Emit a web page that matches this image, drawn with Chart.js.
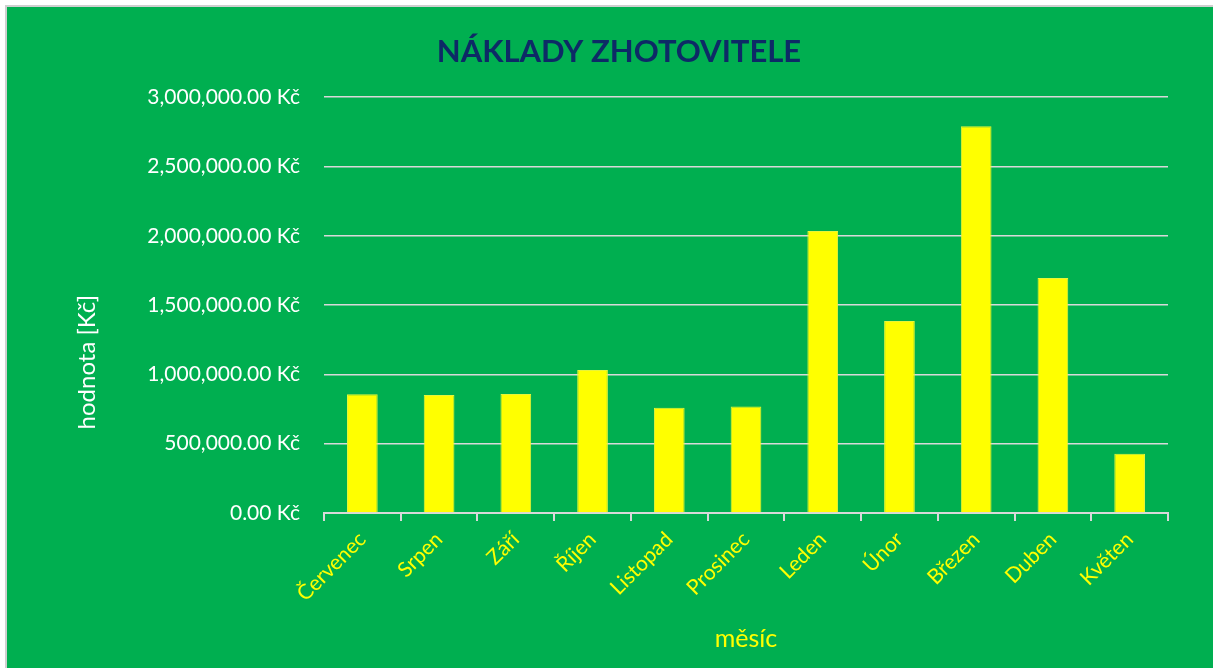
<!DOCTYPE html>
<html lang="cs">
<head>
    <meta charset="UTF-8">
    <title>Náklady zhotovitele</title>
    <script src="https://cdn.jsdelivr.net/npm/chart.js@4/dist/chart.umd.min.js"></script>
    <style>
        html, body { margin: 0; padding: 0; background: #fff; }
        #wrap { width: 1213px; height: 668px; }
    </style>
</head>
<body>
<div id="wrap"><canvas id="naklady" width="1213" height="668"></canvas></div>

<script>
// data
var mesice = ['Červenec', 'Srpen', 'Září', 'Říjen', 'Listopad', 'Prosinec', 'Leden', 'Únor', 'Březen', 'Duben', 'Květen'];
var hodnoty = [856000, 851000, 858000, 1031000, 759000, 769000, 2034000, 1385000, 2791000, 1695000, 428000];
var osaMax = 3000000;
var osaKrok = 500000;
var nazevOsyY = 'hodnota [Kč]';

var zelena = '#00AF50';
var zluta = '#FFFF00';
var mrizka = '#D9D9D9';
var pismo = 'Lato, "Open Sans", sans-serif';

// zelene pozadi s rameckem
var pozadi = {
    id: 'pozadi',
    beforeDraw: function(chart) {
        var c = chart.ctx;
        c.save();
        c.fillStyle = '#ffffff';
        c.fillRect(0, 0, chart.width, chart.height);
        c.fillStyle = '#cfcfcf';
        c.fillRect(5, 5, chart.width - 5, chart.height - 5);
        c.fillStyle = zelena;
        c.fillRect(7, 7, chart.width - 7, chart.height - 7);
        c.restore();
    }
};

// popisek osy y - v excelu je posunuty trochu niz nez stred osy
var popisekY = {
    id: 'popisekY',
    afterDraw: function(chart) {
        var c = chart.ctx;
        var a = chart.chartArea;
        c.save();
        c.translate(87, (a.top + a.bottom) / 2 + 57);
        c.rotate(-Math.PI / 2);
        c.fillStyle = '#ffffff';
        c.font = '24px ' + pismo;
        c.textAlign = 'center';
        c.textBaseline = 'middle';
        c.fillText(nazevOsyY, 0, 0);
        c.restore();
    }
};

function kc(v) {
    return Number(v).toLocaleString('en-US', { minimumFractionDigits: 2, maximumFractionDigits: 2 }) + ' Kč';
}

var ctx = document.getElementById('naklady').getContext('2d');
var chart = new Chart(ctx, {
    type: 'bar',
    data: {
        labels: mesice,
        datasets: [{
            label: 'Náklady',
            data: hodnoty,
            backgroundColor: zluta,
            borderColor: '#E8F53A',
            borderWidth: 1,
            barPercentage: 0.4,
            categoryPercentage: 1.0
        }]
    },
    options: {
        responsive: false,
        animation: false,
        layout: { padding: { left: 70, right: 45, top: 7, bottom: 14 } },
        plugins: {
            legend: { display: false },
            tooltip: { enabled: false },
            title: {
                display: true,
                text: 'NÁKLADY ZHOTOVITELE',
                color: '#0D2A66',
                font: { family: pismo, size: 31, weight: 'bold' },
                padding: { top: 26, bottom: 27 }
            }
        },
        scales: {
            x: {
                grid: { display: true, drawOnChartArea: false, color: mrizka, lineWidth: 2, tickLength: 8, offset: true },
                border: { display: true, color: mrizka, width: 2 },
                ticks: {
                    color: zluta,
                    font: { family: pismo, size: 21 },
                    minRotation: 45,
                    maxRotation: 45,
                    padding: 6
                },
                title: {
                    display: true,
                    text: 'měsíc',
                    color: zluta,
                    font: { family: pismo, size: 25 },
                    padding: { top: 0, bottom: 0 }
                },
                afterFit: function(scale) { scale.height = 141; }
            },
            y: {
                min: 0,
                max: osaMax,
                grid: { color: mrizka, lineWidth: 1.5, drawTicks: false },
                border: { display: false },
                ticks: {
                    stepSize: osaKrok,
                    color: '#ffffff',
                    font: { family: pismo, size: 21 },
                    padding: 24,
                    callback: function(v) { return kc(v); }
                },
                title: { display: false },
                afterFit: function(scale) { scale.width = 254; }
            }
        }
    },
    plugins: [pozadi, popisekY]
});
</script>
</body>
</html>
